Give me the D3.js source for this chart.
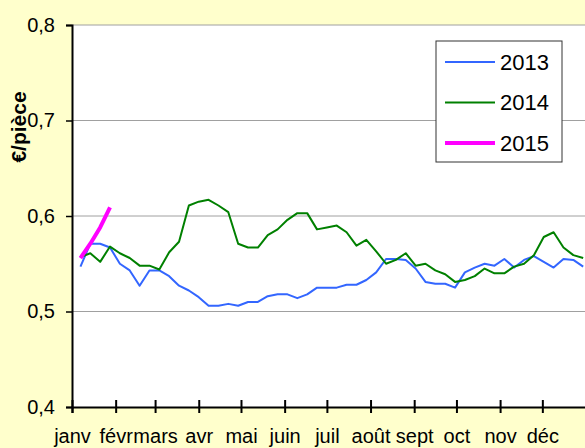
<!DOCTYPE html>
<html>
<head>
<meta charset="utf-8">
<script src="https://cdn.jsdelivr.net/npm/d3@7"></script>
<style>
	html, body { margin: 0; padding: 0; background: #ffffcc; }
	svg { display: block; font-family: "Liberation Sans", Arial, sans-serif; }
</style>
</head>
<body>
<svg id="chart" width="585" height="448"></svg>
<script>
const months = ['janv', 'févr', 'mars', 'avr', 'mai', 'juin', 'juil', 'août', 'sept', 'oct', 'nov', 'déc'];
const yTicks = [0.4, 0.5, 0.6, 0.7, 0.8];
const years = ['2013', '2014', '2015'];
const colors = ['#3366ff', '#008000', '#ff00ff'];

// weekly prices, €/pièce
const prices2013 = [
	0.547, 0.571, 0.571, 0.567, 0.550, 0.543, 0.527, 0.543, 0.543, 0.537,
	0.527, 0.522, 0.515, 0.506, 0.506, 0.508, 0.506, 0.510, 0.510, 0.516,
	0.518, 0.518, 0.514, 0.518, 0.525, 0.525, 0.525, 0.528, 0.528, 0.533,
	0.541, 0.555, 0.555, 0.554, 0.545, 0.531, 0.529, 0.529, 0.525, 0.541,
	0.546, 0.550, 0.548, 0.555, 0.546, 0.554, 0.558, 0.552, 0.546, 0.555,
	0.554, 0.547
];
const prices2014 = [
	0.557, 0.561, 0.552, 0.568, 0.561, 0.556, 0.548, 0.548, 0.544, 0.562,
	0.573, 0.611, 0.615, 0.617, 0.611, 0.604, 0.571, 0.567, 0.567, 0.580,
	0.586, 0.596, 0.603, 0.603, 0.586, 0.588, 0.590, 0.583, 0.569, 0.575,
	0.563, 0.550, 0.554, 0.561, 0.548, 0.550, 0.543, 0.539, 0.531, 0.533,
	0.537, 0.545, 0.540, 0.540, 0.547, 0.550, 0.559, 0.578, 0.583, 0.567,
	0.559, 0.556
];
const prices2015 = [0.556, 0.571, 0.588, 0.609];

const series = [prices2013, prices2014, prices2015];

const margin = { top: 25, left: 72, bottom: 41 };
const width = 585, height = 448;

const svg = d3.select('#chart');

const x = d3.scaleTime()
	.domain([new Date(2013, 0, 1), new Date(2014, 0, 1)])
	.range([margin.left, 586]);

const y = d3.scaleLinear()
	.domain([0.4, 0.8])
	.range([height - margin.bottom, margin.top]);

// one point per week, first one on the first monday
const weekDate = i => new Date(2013, 0, 7 + 7 * i);

const fr = d3.formatLocale({ decimal: ',', thousands: ' ', grouping: [3], currency: ['', ' €'] });

svg.append('rect')
	.attr('x', margin.left)
	.attr('y', margin.top)
	.attr('width', width - margin.left)
	.attr('height', y(0.4) - margin.top)
	.attr('fill', '#fff');

svg.append('g')
	.selectAll('line')
	.data(yTicks.filter(d => d > 0.4))
	.join('line')
	.attr('x1', margin.left)
	.attr('x2', width)
	.attr('y1', d => y(d))
	.attr('y2', d => y(d))
	.attr('stroke', '#a0a0a0')
	.attr('stroke-width', 1);

let line = d3.line()
	.x((d, i) => x(weekDate(i)))
	.y(d => y(d));

svg.append('g')
	.selectAll('path')
	.data(series)
	.join('path')
	.attr('d', d => line(d))
	.attr('fill', 'none')
	.attr('stroke', (d, i) => colors[i])
	.attr('stroke-width', (d, i) => i === 2 ? 4 : 2)
	.attr('stroke-linejoin', 'round');

let yAxis = svg.append('g')
	.attr('transform', `translate(${margin.left},0)`)
	.call(d3.axisLeft(y)
		.tickValues(yTicks)
		.tickFormat(fr.format('.1f'))
		.tickSize(6)
		.tickPadding(11));

yAxis.select('.domain').attr('stroke', '#000').attr('stroke-width', 2);
yAxis.selectAll('.tick line').attr('stroke', '#000').attr('stroke-width', 1.5);
yAxis.selectAll('.tick text')
	.attr('fill', '#000')
	.style('font-size', '20px')
	.style('font-family', '"Liberation Sans", Arial, sans-serif');

let xAxis = svg.append('g')
	.attr('transform', `translate(0,${y(0.4)})`)
	.call(d3.axisBottom(x)
		.tickValues(x.ticks(d3.timeMonth.every(1)).slice(0, 12))
		.tickFormat(d => months[d.getMonth()])
		.tickSizeOuter(0)
		.tickSize(6)
		.tickPadding(16));

xAxis.select('.domain').attr('stroke', '#000').attr('stroke-width', 2);
xAxis.selectAll('.tick line')
	.attr('y1', -7)
	.attr('stroke', '#000')
	.attr('stroke-width', 2);
xAxis.selectAll('.tick text')
	.attr('fill', '#000')
	.style('font-size', '20px')
	.style('font-family', '"Liberation Sans", Arial, sans-serif');

svg.append('text')
	.attr('transform', `translate(26,127) rotate(-90)`)
	.attr('text-anchor', 'middle')
	.style('font-size', '21px')
	.style('font-weight', 'bold')
	.text('€/pièce');

// legend
let legend = svg.append('g')
	.attr('transform', 'translate(436,41)');

legend.append('rect')
	.attr('width', 126)
	.attr('height', 121)
	.attr('fill', '#fff')
	.attr('stroke', '#333')
	.attr('stroke-width', 1);

let item = legend.selectAll('g.item')
	.data(years)
	.join('g')
	.attr('class', 'item')
	.attr('transform', (d, i) => `translate(0,${21 + i * 40.5})`);

item.append('line')
	.attr('x1', 9)
	.attr('x2', 59)
	.attr('stroke', (d, i) => colors[i])
	.attr('stroke-width', (d, i) => i === 2 ? 4 : 2);

item.append('text')
	.attr('x', 64)
	.attr('dy', '0.36em')
	.style('font-size', '22px')
	.text(d => d);
</script>
</body>
</html>
